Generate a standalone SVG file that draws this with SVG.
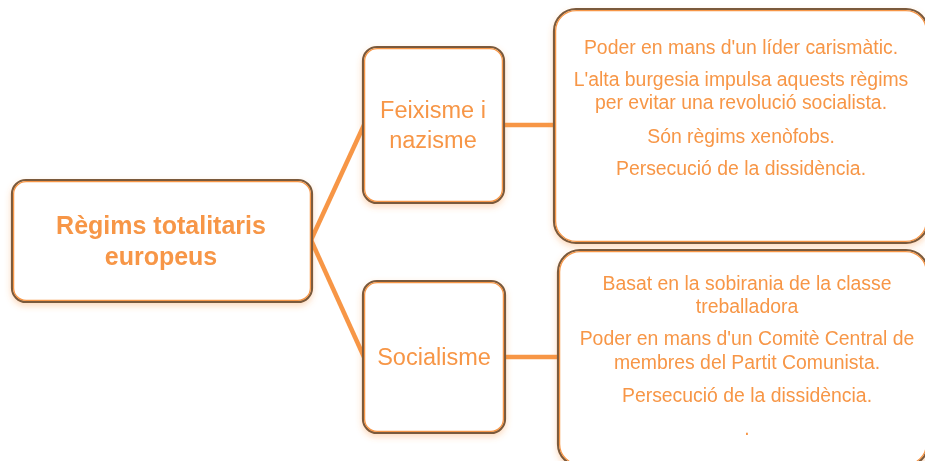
<svg xmlns="http://www.w3.org/2000/svg" width="925" height="461" viewBox="0 0 925 461">
  <defs>
    <filter id="glow" x="-10%" y="-10%" width="120%" height="130%">
      <feGaussianBlur in="SourceAlpha" stdDeviation="3"/>
      <feOffset dy="3" result="b"/>
      <feFlood flood-color="#F79646" flood-opacity="0.35"/>
      <feComposite in2="b" operator="in" result="s"/>
      <feMerge><feMergeNode in="s"/><feMergeNode in="SourceGraphic"/></feMerge>
    </filter>
  </defs>
  <style>
    .box { fill: #FFFFFF; stroke: #7A5A3C; stroke-width: 2.2; }
    .inner { fill: none; stroke: #F79646; stroke-width: 1.3; }
    .conn { stroke: #F79646; stroke-width: 4.5; fill: none; stroke-linecap: butt; }
    text { font-family: "Liberation Sans", Arial, sans-serif; fill: #F79646; text-anchor: middle; }
    .root { font-size: 25px; font-weight: bold; }
    .mid { font-size: 23.5px; }
    .det { font-size: 19.4px; }
  </style>
  <rect width="925" height="461" fill="#FFFFFF"/>
  <g id="connectors">
    <path class="conn" d="M311,240 L364,125"/>
    <path class="conn" d="M311,240 L364,357"/>
    <path class="conn" d="M504,125 L555,125"/>
    <path class="conn" d="M505,357 L559,357"/>
  </g>
  <g id="root" filter="url(#glow)">
    <rect class="box" x="12" y="180" width="300" height="122" rx="14"/>
    <rect class="inner" x="13.6" y="181.6" width="296.8" height="118.8" rx="12.5"/>
    <text class="root" x="161" y="234">Règims totalitaris</text>
    <text class="root" x="161" y="265">europeus</text>
  </g>
  <g id="feixisme" filter="url(#glow)">
    <rect class="box" x="363" y="47" width="141" height="156" rx="14"/>
    <rect class="inner" x="364.6" y="48.6" width="137.8" height="152.8" rx="12.5"/>
    <text class="mid" x="433" y="118">Feixisme i</text>
    <text class="mid" x="433" y="148">nazisme</text>
  </g>
  <g id="socialisme" filter="url(#glow)">
    <rect class="box" x="363" y="281" width="142" height="152" rx="14"/>
    <rect class="inner" x="364.6" y="282.6" width="138.8" height="148.8" rx="12.5"/>
    <text class="mid" x="434" y="365">Socialisme</text>
  </g>
  <g id="feixisme-detalls" filter="url(#glow)">
    <rect class="box" x="554" y="9" width="374" height="234" rx="22"/>
    <rect class="inner" x="555.6" y="10.6" width="370.8" height="230.8" rx="20.5"/>
    <text class="det" x="741" y="54">Poder en mans d'un líder carismàtic.</text>
    <text class="det" x="741" y="86">L'alta burgesia impulsa aquests règims</text>
    <text class="det" x="741" y="109">per evitar una revolució socialista.</text>
    <text class="det" x="741" y="143">Són règims xenòfobs.</text>
    <text class="det" x="741" y="175">Persecució de la dissidència.</text>
  </g>
  <g id="socialisme-detalls" filter="url(#glow)">
    <rect class="box" x="558" y="250" width="370" height="216" rx="22"/>
    <rect class="inner" x="559.6" y="251.6" width="366.8" height="212.8" rx="20.5"/>
    <text class="det" x="747" y="290">Basat en la sobirania de la classe</text>
    <text class="det" x="747" y="313">treballadora</text>
    <text class="det" x="747" y="345">Poder en mans d'un Comitè Central de</text>
    <text class="det" x="747" y="369">membres del Partit Comunista.</text>
    <text class="det" x="747" y="402">Persecució de la dissidència.</text>
    <text class="det" x="747" y="435">.</text>
  </g>
</svg>
